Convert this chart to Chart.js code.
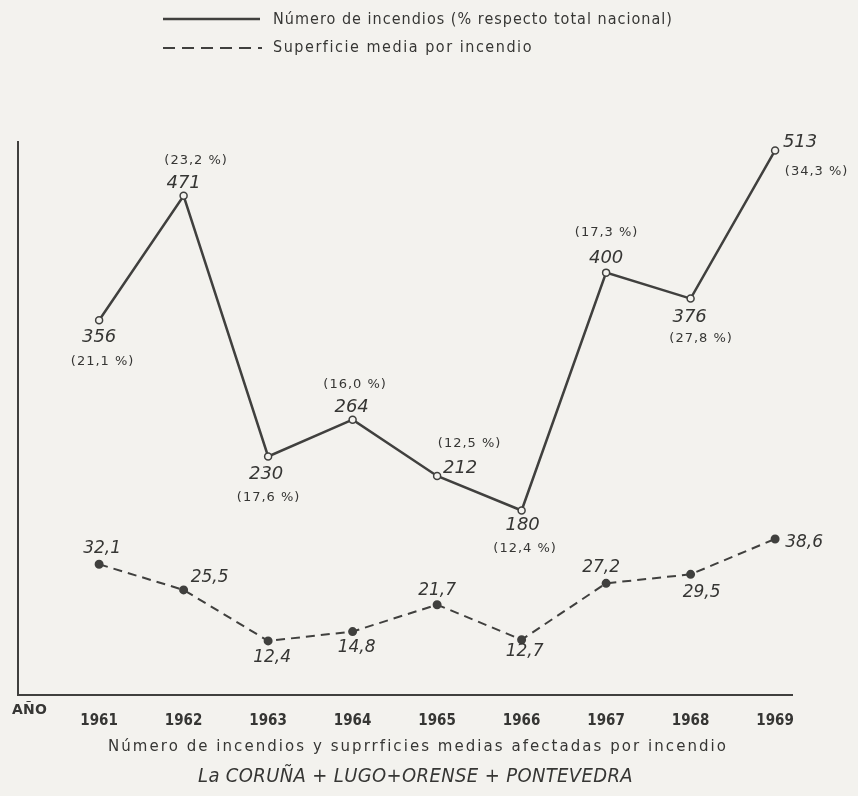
<!DOCTYPE html>
<html>
<head>
<meta charset="utf-8">
<script src="https://cdn.jsdelivr.net/npm/chart.js@4"></script>
<style>
html,body{margin:0;padding:0;background:#f3f2ee;}
#wrap{width:858px;height:796px;}
</style>
</head>
<body>
<div id="wrap"><canvas id="c" width="858" height="796"></canvas></div>
<script>
// ---- data ----
const years = [1961, 1962, 1963, 1964, 1965, 1966, 1967, 1968, 1969];
const fireCounts = [356, 471, 230, 264, 212, 180, 400, 376, 513];
const firePercents = ['21,1', '23,2', '17,6', '16,0', '12,5', '12,4', '17,3', '27,8', '34,3'];
const surfaceMeans = [32.1, 25.5, 12.4, 14.8, 21.7, 12.7, 27.2, 29.5, 38.6];

const legendLabels = ['Número de incendios (% respecto total nacional)', 'Superficie media por incendio'];
const xAxisName = 'AÑO';
const titleLine1 = 'Número de incendios y suprrficies medias afectadas por incendio';
const titleLine2 = 'La CORUÑA + LUGO+ORENSE + PONTEVEDRA';

// ---- label placement (pixel offsets from each point) ----
const fireNumOffsets = [[0,17],[0,-13],[-2,18],[-1,-12],[23,-8],[1,15],[0,-14],[-1,19],[25,-8]];
const firePctOffsets = [[3,41],[12,-35],[0,41],[2,-35],[32,-32],[3,38],[0,-40],[10,40],[41,21]];
const surfOffsets = [[3,-16],[26,-12],[4,17],[4,16],[0,-14],[3,12],[-5,-16],[11,18],[29,4]];

const INK = '#40403e';
const TXT = '#363634';
const BG = '#f3f2ee';

const fmt = v => v.toFixed(1).replace('.', ',');

function fitText(ctx, s, x, y, font, target, align) {
  ctx.font = font;
  ctx.letterSpacing = '0px';
  const w = ctx.measureText(s).width;
  const sp = (target - w) / s.length;
  ctx.letterSpacing = sp + 'px';
  ctx.textAlign = align || 'left';
  ctx.textBaseline = 'middle';
  ctx.fillText(s, x, y);
  ctx.letterSpacing = '0px';
}
function txt(ctx, s, x, y, font, spacing) {
  ctx.font = font;
  ctx.letterSpacing = (spacing || 0) + 'px';
  ctx.textAlign = 'center';
  ctx.textBaseline = 'middle';
  ctx.fillText(s, x + (spacing || 0) / 2, y);
  ctx.letterSpacing = '0px';
}

const decor = {
  id: 'decor',
  beforeDraw(chart) {
    const ctx = chart.ctx;
    ctx.save();
    ctx.fillStyle = BG;
    ctx.fillRect(0, 0, chart.width, chart.height);
    ctx.restore();
  },
  afterDraw(chart) {
    const ctx = chart.ctx;
    ctx.save();
    ctx.fillStyle = TXT;
    ctx.strokeStyle = INK;
    // legend
    ctx.lineWidth = 2.5;
    ctx.setLineDash([]);
    ctx.beginPath(); ctx.moveTo(163, 19); ctx.lineTo(260, 19); ctx.stroke();
    ctx.lineWidth = 2;
    ctx.setLineDash([12, 7]);
    ctx.beginPath(); ctx.moveTo(163, 48); ctx.lineTo(262, 48); ctx.stroke();
    ctx.setLineDash([]);
    fitText(ctx, legendLabels[0], 273, 20, '16px "DejaVu Sans Condensed", "DejaVu Sans"', 400);
    fitText(ctx, legendLabels[1], 273, 48, '16px "DejaVu Sans Condensed", "DejaVu Sans"', 260);
    // axis name
    fitText(ctx, xAxisName, 12, 710, 'bold 14px "DejaVu Sans"', 35);
    // titles
    fitText(ctx, titleLine1, 108, 747, '15px "DejaVu Sans"', 620);
    fitText(ctx, titleLine2, 198, 777, 'oblique 20px "DejaVu Sans Condensed", "DejaVu Sans"', 435);

    // data labels
    const m0 = chart.getDatasetMeta(0).data;
    const m1 = chart.getDatasetMeta(1).data;
    m0.forEach((p, i) => {
      const [nx, ny] = fireNumOffsets[i];
      const [px, py] = firePctOffsets[i];
      txt(ctx, String(fireCounts[i]), p.x + nx, p.y + ny, 'oblique 18px "DejaVu Sans"');
      txt(ctx, '(' + firePercents[i] + ' %)', p.x + px, p.y + py, '13px "DejaVu Sans"', 1);
    });
    m1.forEach((p, i) => {
      const [sx, sy] = surfOffsets[i];
      txt(ctx, fmt(surfaceMeans[i]), p.x + sx, p.y + sy, 'oblique 17px "DejaVu Sans"');
    });
    ctx.restore();
  }
};

new Chart(document.getElementById('c'), {
  type: 'line',
  data: {
    datasets: [
      {
        label: legendLabels[0],
        data: years.map((y, i) => ({ x: y, y: fireCounts[i] })),
        yAxisID: 'yFires',
        borderColor: INK,
        borderWidth: 2.5,
        pointRadius: 3.5,
        pointBorderWidth: 1.5,
        pointBackgroundColor: BG,
        pointBorderColor: INK,
        tension: 0,
        clip: false
      },
      {
        label: legendLabels[1],
        data: years.map((y, i) => ({ x: y, y: surfaceMeans[i] })),
        yAxisID: 'ySurf',
        borderColor: INK,
        borderWidth: 2,
        borderDash: [9, 6],
        pointRadius: 3.5,
        pointBackgroundColor: INK,
        pointBorderColor: INK,
        tension: 0,
        clip: false
      }
    ]
  },
  options: {
    responsive: false,
    animation: false,
    layout: { padding: { left: 18, right: 66, top: 142, bottom: 71 } },
    plugins: { legend: { display: false }, title: { display: false }, tooltip: { enabled: false } },
    scales: {
      x: {
        type: 'linear',
        min: 1960.04,
        max: 1969.2,
        afterBuildTicks: s => { s.ticks = years.map(v => ({ value: v })); },
        afterFit: s => { s.height = 30; },
        ticks: {
          callback: v => String(v),
          color: TXT,
          font: { family: '"DejaVu Sans Condensed", "DejaVu Sans"', size: 15, weight: 'bold' },
          padding: 17,
          maxRotation: 0,
          autoSkip: false
        },
        grid: { display: false, drawTicks: false },
        border: { display: true, color: INK, width: 2 }
      },
      yFires: {
        type: 'linear',
        position: 'left',
        min: 9.4,
        max: 520.8,
        afterFit: s => { s.width = 0; },
        ticks: { display: false },
        grid: { display: false, drawTicks: false },
        border: { display: true, color: INK, width: 2 }
      },
      ySurf: {
        type: 'linear',
        position: 'right',
        min: -1.5,
        max: 140.6,
        display: false
      }
    }
  },
  plugins: [decor]
});
</script>
</body>
</html>
